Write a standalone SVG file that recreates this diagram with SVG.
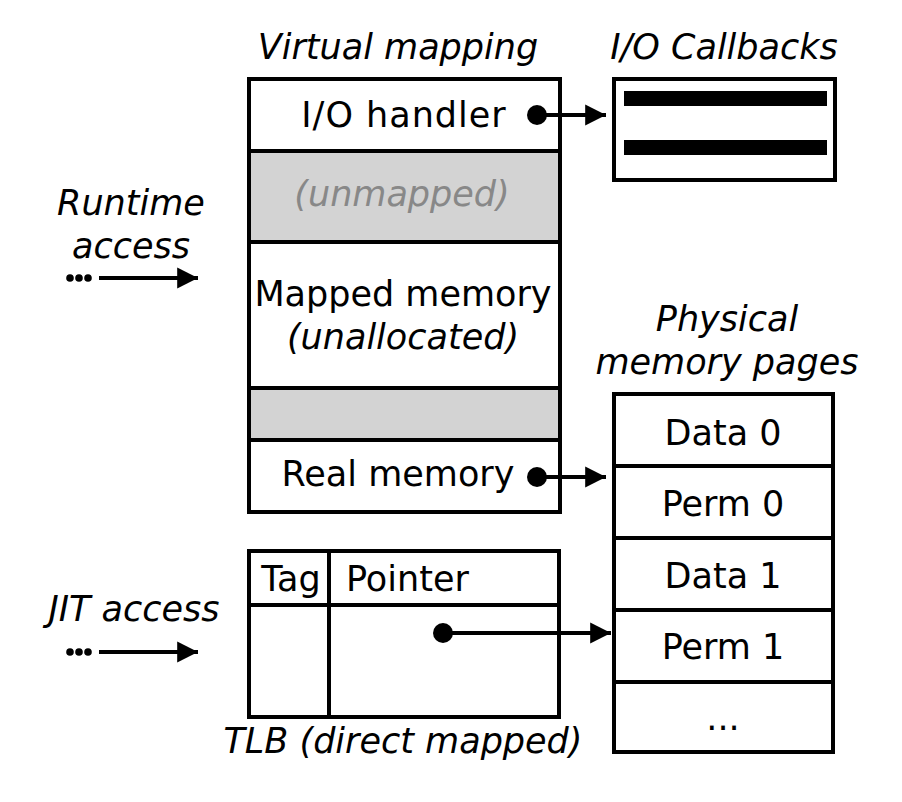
<svg xmlns="http://www.w3.org/2000/svg" width="902" height="802" viewBox="0 0 902 802">
<defs>
<style>
text{font-family:"DejaVu Sans","Liberation Sans",sans-serif;font-size:35px;fill:#000}
.it{font-style:italic}
.m{text-anchor:middle}
.box{fill:#fff;stroke:#000;stroke-width:4}
.gray{fill:#d3d3d3;stroke:#000;stroke-width:4}
.ln{stroke:#000;stroke-width:4;fill:none}
</style>
<marker id="ah" viewBox="0 0 10 10" refX="10" refY="5" markerWidth="5.2" markerHeight="6.5" markerUnits="strokeWidth" orient="auto"><path d="M0,0L10,5L0,10z" fill="#000"/></marker>
</defs>
<g id="virtual">
<text class="it m" x="398" y="59">Virtual mapping</text>
<rect class="box" x="249" y="79" width="311" height="433"/>
<rect class="gray" x="249" y="151" width="311" height="91"/>
<rect class="gray" x="249" y="388" width="311" height="52"/>
<text class="m" x="404" y="127" letter-spacing="1">I/O handler</text>
<text class="it m" x="402" y="206" style="fill:#888">(unmapped)</text>
<text class="m" x="403" y="306">Mapped memory</text>
<text class="it m" x="403" y="349">(unallocated)</text>
<text class="m" x="398" y="486">Real memory</text>
</g>
<g id="callbacks">
<text class="it m" x="724" y="59">I/O Callbacks</text>
<rect class="box" x="614" y="79" width="221" height="101"/>
<rect x="624" y="91" width="203" height="15" fill="#000"/>
<rect x="624" y="140" width="203" height="15" fill="#000"/>
</g>
<g id="physical">
<text class="it m" x="727" y="331">Physical</text>
<text class="it m" x="727" y="374">memory pages</text>
<rect class="box" x="614" y="394" width="219" height="358"/>
<line class="ln" x1="614" y1="466" x2="833" y2="466"/>
<line class="ln" x1="614" y1="538" x2="833" y2="538"/>
<line class="ln" x1="614" y1="610" x2="833" y2="610"/>
<line class="ln" x1="614" y1="682" x2="833" y2="682"/>
<text class="m" x="723" y="445">Data 0</text>
<text class="m" x="723" y="516">Perm 0</text>
<text class="m" x="723" y="588">Data 1</text>
<text class="m" x="723" y="659">Perm 1</text>
<text class="m" x="723" y="730">...</text>
</g>
<g id="tlb">
<rect class="box" x="249" y="551" width="310" height="166"/>
<line class="ln" x1="249" y1="605" x2="559" y2="605"/>
<line class="ln" x1="329" y1="551" x2="329" y2="717"/>
<text class="m" x="291" y="591">Tag</text>
<text x="346" y="591">Pointer</text>
<text class="it m" x="403" y="753">TLB (direct mapped)</text>
</g>
<g id="runtime">
<text class="it m" x="131" y="215">Runtime</text>
<text class="it m" x="131" y="258">access</text>
</g>
<g id="jit">
<text class="it m" x="134" y="621">JIT access</text>
</g>
<g id="connectors">
<circle cx="537" cy="115" r="10"/>
<line class="ln" x1="537" y1="115" x2="606" y2="115" marker-end="url(#ah)"/>
<circle cx="537" cy="477" r="10"/>
<line class="ln" x1="537" y1="477" x2="606" y2="477" marker-end="url(#ah)"/>
<circle cx="443" cy="633" r="10"/>
<line class="ln" x1="443" y1="633" x2="611" y2="633" marker-end="url(#ah)"/>
<circle cx="70" cy="278" r="3.8"/><circle cx="79" cy="278" r="3.8"/><circle cx="88" cy="278" r="3.8"/>
<line class="ln" x1="99" y1="278" x2="198" y2="278" marker-end="url(#ah)"/>
<circle cx="70" cy="652" r="3.8"/><circle cx="79" cy="652" r="3.8"/><circle cx="88" cy="652" r="3.8"/>
<line class="ln" x1="99" y1="652" x2="198" y2="652" marker-end="url(#ah)"/>
</g>
</svg>
